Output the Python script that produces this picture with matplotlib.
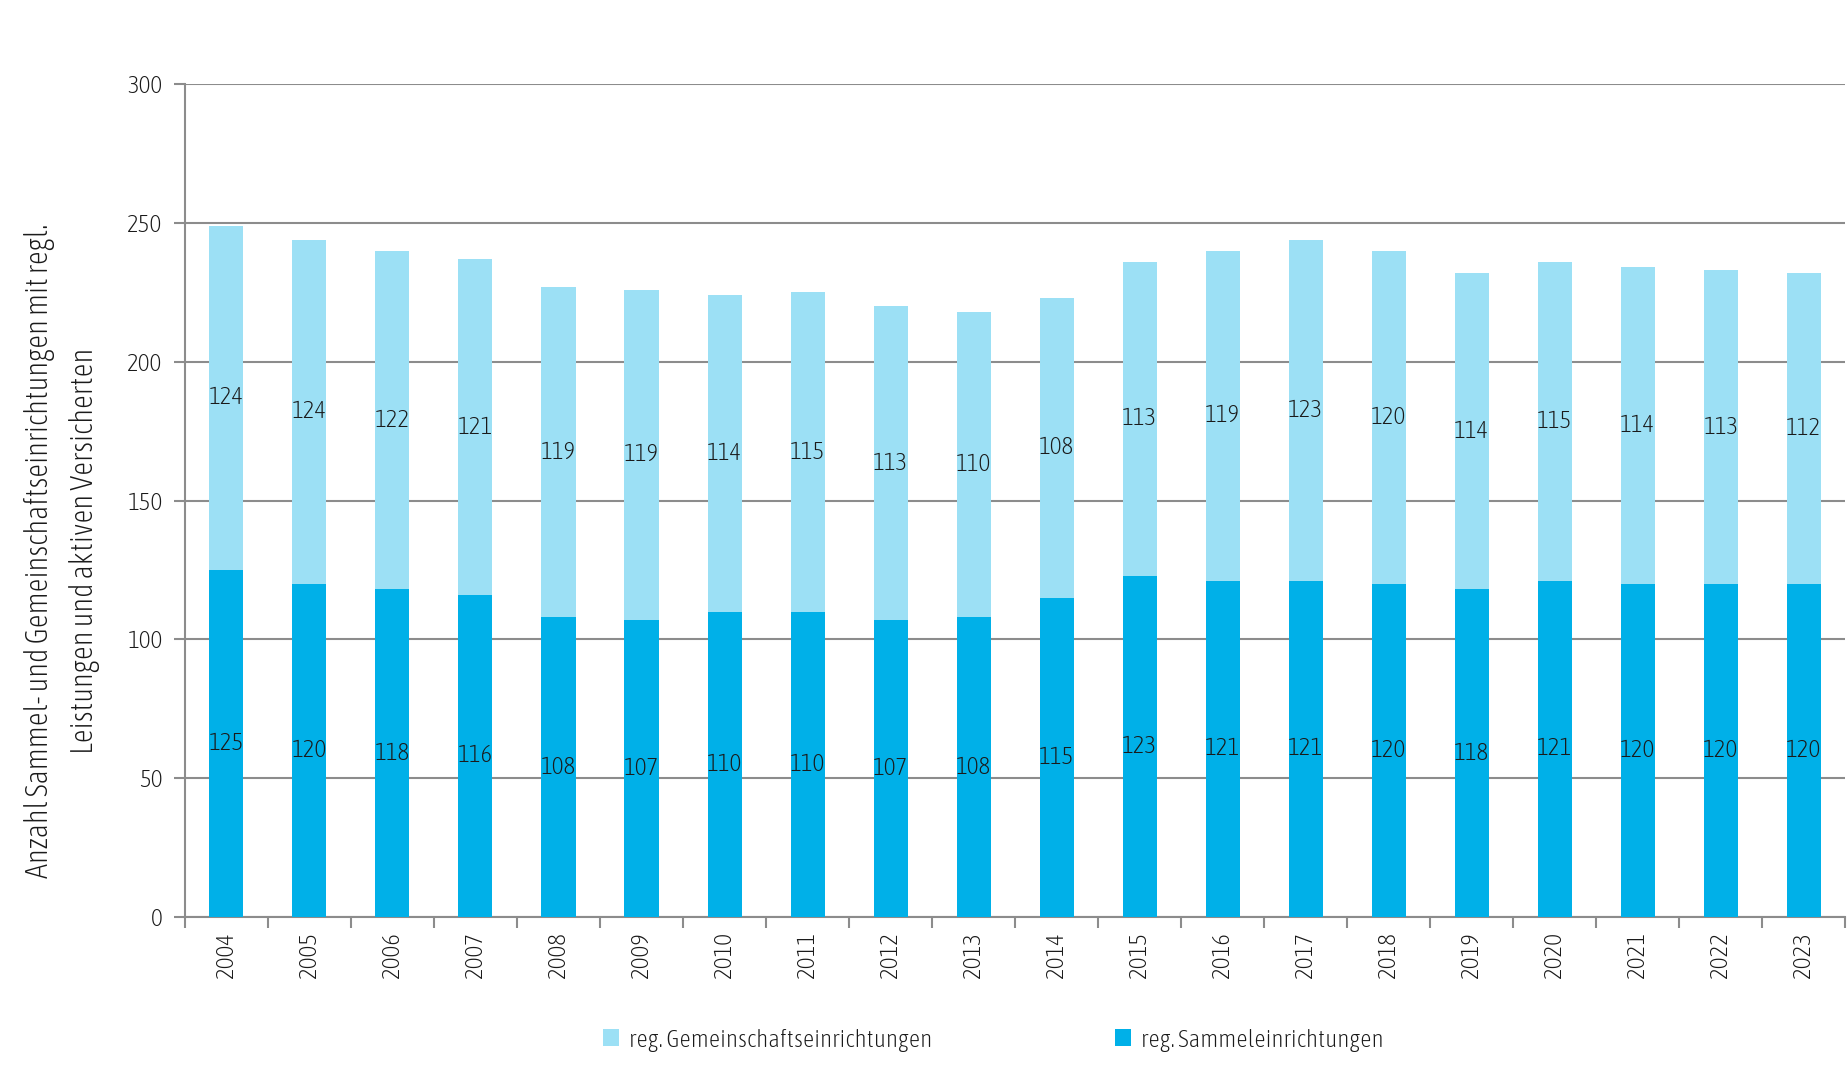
import matplotlib
matplotlib.use("Agg")
import matplotlib.pyplot as plt
import numpy as np
from matplotlib import font_manager as fm

years = ["2004", "2005", "2006", "2007", "2008", "2009", "2010", "2011", "2012", "2013",
         "2014", "2015", "2016", "2017", "2018", "2019", "2020", "2021", "2022", "2023"]
sammel = [125, 120, 118, 116, 108, 107, 110, 110, 107, 108,
          115, 123, 121, 121, 120, 118, 121, 120, 120, 120]
gemeinschaft = [124, 124, 122, 121, 119, 119, 114, 115, 113, 110,
                108, 113, 119, 123, 120, 114, 115, 114, 113, 112]
yticks = [0, 50, 100, 150, 200, 250, 300]

c_dark = "#00B0E8"
c_light = "#9CE0F5"
grid_c = "#8C8C8C"
txt_c = "#1A1A1A"

# choose a narrow font if one is available
narrow = [f for f in fm.fontManager.ttflist
          if ("narrow" in f.fname.lower() or "condensed" in f.fname.lower())
          and "bold" not in f.fname.lower() and "italic" not in f.fname.lower()
          and "oblique" not in f.fname.lower() and "mono" not in f.fname.lower()
          and "serif" not in f.fname.lower().replace("sans", "")]
fp = None
pref = ["light", "liberation", "roboto", "dejavu", "noto", "open"]
for key in pref:
    for f in narrow:
        if key in f.fname.lower():
            fp = fm.FontProperties(fname=f.fname)
            break
    if fp is not None:
        break
if fp is None:
    fp = fm.FontProperties(family="DejaVu Sans", stretch="condensed")

def F(size):
    p = fp.copy()
    p.set_size(size)
    return p

fig = plt.figure(figsize=(18.49, 10.80), dpi=100)
ax = fig.add_axes([0.100, 0.151, 0.898, 0.771])

x = np.arange(len(years))
b1 = ax.bar(x, sammel, width=0.41, color=c_dark, label="reg. Sammeleinrichtungen", zorder=3)
b2 = ax.bar(x, gemeinschaft, width=0.41, bottom=sammel, color=c_light,
            label="reg. Gemeinschaftseinrichtungen", zorder=3)

for t in ax.bar_label(b1, labels=[str(v) for v in sammel], label_type="center", color=txt_c):
    t.set_fontproperties(F(18))
for t in ax.bar_label(b2, labels=[str(v) for v in gemeinschaft], label_type="center", color=txt_c):
    t.set_fontproperties(F(18))

ax.set_xlim(-0.5, len(years) - 0.5)
ax.set_ylim(0, 300)
ax.set_yticks(yticks)
ax.set_yticklabels([str(v) for v in yticks], color=txt_c, fontproperties=F(18))
ax.yaxis.grid(True, color=grid_c, linewidth=1.5, zorder=0)
ax.set_axisbelow(True)

ax.set_xticks(x)
ax.set_xticklabels(years, rotation=90, color=txt_c, fontproperties=F(18))
ax.tick_params(axis="x", which="major", length=0, pad=10)
ax.set_xticks(np.arange(-0.5, len(years), 1.0), minor=True)
ax.tick_params(axis="x", which="minor", length=8, width=1.5, color=grid_c)
ax.tick_params(axis="y", length=8, width=1.5, color=grid_c, pad=8)

for s in ["top", "right"]:
    ax.spines[s].set_visible(False)
for s in ["left", "bottom"]:
    ax.spines[s].set_color(grid_c)
    ax.spines[s].set_linewidth(1.5)

fig.text(0.0335, 0.49, "Anzahl Sammel- und Gemeinschaftseinrichtungen mit regl.\nLeistungen und aktiven Versicherten",
         rotation=90, ha="center", va="center", color=txt_c, linespacing=1.6,
         fontproperties=F(22))

l1 = fig.legend([b2], ["reg. Gemeinschaftseinrichtungen"], loc="center left",
                bbox_to_anchor=(0.326, 0.037), frameon=False, prop=F(18),
                handlelength=0.65, handleheight=0.65, handletextpad=0.4,
                borderpad=0, borderaxespad=0, labelcolor=txt_c)
l2 = fig.legend([b1], ["reg. Sammeleinrichtungen"], loc="center left",
                bbox_to_anchor=(0.603, 0.037), frameon=False, prop=F(18),
                handlelength=0.65, handleheight=0.65, handletextpad=0.4,
                borderpad=0, borderaxespad=0, labelcolor=txt_c)

fig.savefig("out.png", dpi=100)
